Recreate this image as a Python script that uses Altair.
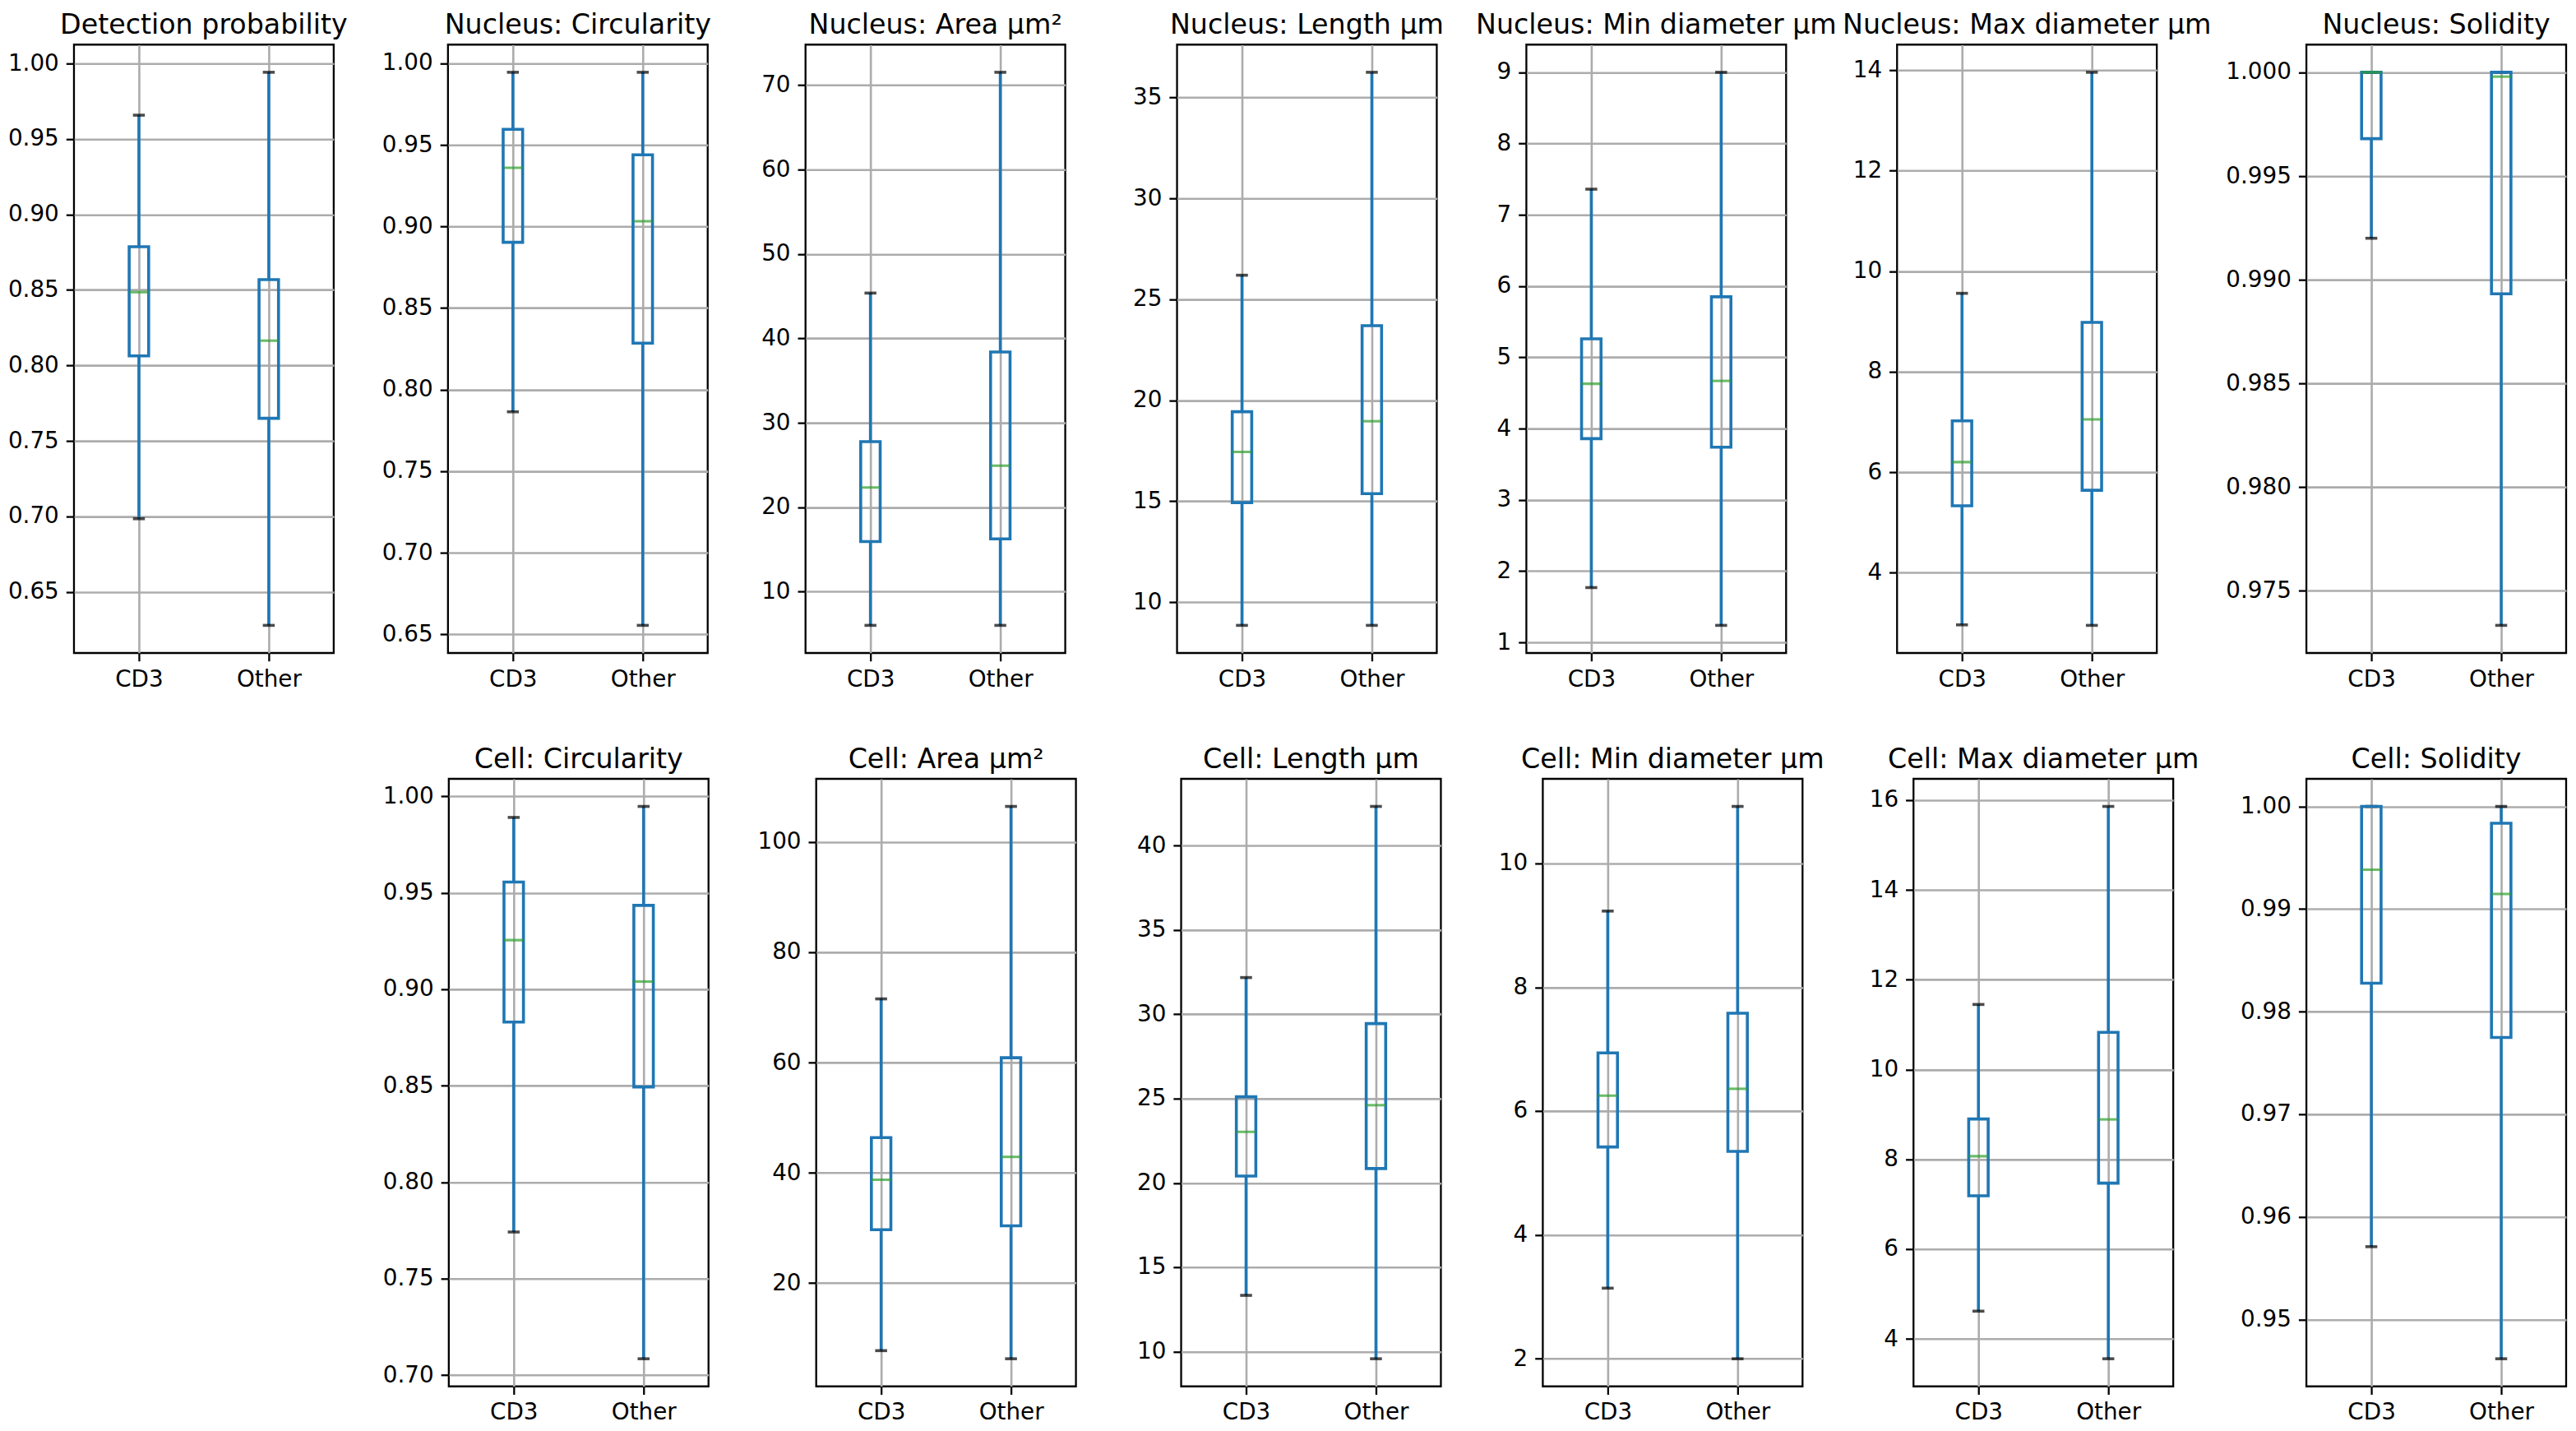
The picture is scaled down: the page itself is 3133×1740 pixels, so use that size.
import altair as alt
import pandas as pd

groups = ["CD3", "Other"]

titles = [
    "Detection probability", "Nucleus: Circularity", "Nucleus: Area µm²", "Nucleus: Length µm",
    "Nucleus: Min diameter µm", "Nucleus: Max diameter µm", "Nucleus: Solidity",
    "Cell: Circularity", "Cell: Area µm²", "Cell: Length µm", "Cell: Min diameter µm",
    "Cell: Max diameter µm", "Cell: Solidity",
]

# box statistics per panel (lower whisker, q1, median, q3, upper whisker)
cd3_lo = [0.6985, 0.7864, 6.0, 8.85, 1.77, 2.96, 0.99200, 0.7742, 7.76, 13.33, 3.14, 4.62, 0.95710]
cd3_q1 = [0.8063, 0.8903, 15.93, 14.93, 3.86, 5.33, 0.99680, 0.8830, 29.7, 20.41, 5.42, 7.19, 0.98277]
cd3_med = [0.8485, 0.9360, 22.33, 17.44, 4.63, 6.20, 1.0, 0.9255, 38.76, 23.03, 6.25, 8.07, 0.99383]
cd3_q3 = [0.8786, 0.9595, 27.77, 19.43, 5.26, 7.02, 1.0, 0.9556, 46.4, 25.11, 6.94, 8.90, 1.0]
cd3_hi = [0.9657, 0.9945, 45.37, 26.19, 7.36, 9.56, 1.0, 0.9891, 71.55, 32.18, 9.23, 11.45, 1.0]

oth_lo = [0.6279, 0.6555, 6.0, 8.85, 1.24, 2.95, 0.97334, 0.7085, 6.29, 9.57, 2.0, 3.56, 0.94618]
oth_q1 = [0.7650, 0.8285, 16.25, 15.37, 3.74, 5.64, 0.98932, 0.8494, 30.4, 20.85, 5.35, 7.47, 0.97749]
oth_med = [0.8164, 0.9032, 24.92, 18.96, 4.67, 7.05, 0.99979, 0.9040, 42.9, 24.61, 6.36, 8.89, 0.99147]
oth_q3 = [0.8568, 0.9439, 38.39, 23.69, 5.85, 8.98, 1.0, 0.9435, 60.88, 29.45, 7.58, 10.83, 0.99836]
oth_hi = [0.9941, 0.9945, 71.53, 36.24, 9.0, 13.96, 1.0, 0.9948, 106.45, 42.33, 10.92, 15.86, 1.0]

ticks = [
    [0.65, 0.70, 0.75, 0.80, 0.85, 0.90, 0.95, 1.00],
    [0.65, 0.70, 0.75, 0.80, 0.85, 0.90, 0.95, 1.00],
    [10, 20, 30, 40, 50, 60, 70],
    [10, 15, 20, 25, 30, 35],
    [1, 2, 3, 4, 5, 6, 7, 8, 9],
    [4, 6, 8, 10, 12, 14],
    [0.975, 0.980, 0.985, 0.990, 0.995, 1.000],
    [0.70, 0.75, 0.80, 0.85, 0.90, 0.95, 1.00],
    [20, 40, 60, 80, 100],
    [10, 15, 20, 25, 30, 35, 40],
    [2, 4, 6, 8, 10],
    [4, 6, 8, 10, 12, 14, 16],
    [0.95, 0.96, 0.97, 0.98, 0.99, 1.00],
]
formats = [".2f", ".2f", "d", "d", "d", "d", ".3f", ".2f", "d", "d", "d", "d", ".2f"]

C0 = "#1f77b4"
C2 = "#2ca02c"
LW = 3.6
BOXW = 23.7
CAPW = 14.5
PW = 316


def y_scale(i):
    vals = [cd3_lo[i], cd3_hi[i], oth_lo[i], oth_hi[i], cd3_q3[i], oth_q3[i]]
    vmin, vmax = min(vals), max(vals)
    m = 0.05 * (vmax - vmin)
    return alt.Scale(domain=[vmin - m, vmax + m], nice=False, zero=False)


def panel(i, h):
    df = pd.DataFrame({
        "group": groups,
        "lo": [cd3_lo[i], oth_lo[i]],
        "q1": [cd3_q1[i], oth_q1[i]],
        "med": [cd3_med[i], oth_med[i]],
        "q3": [cd3_q3[i], oth_q3[i]],
        "hi": [cd3_hi[i], oth_hi[i]],
    })
    ys = y_scale(i)
    xenc = alt.X("group:N", scale=alt.Scale(type="point", domain=groups, padding=0.5),
                 axis=alt.Axis(title=None, labelAngle=0, grid=True))
    yax = alt.Axis(title=None, values=ticks[i], format=formats[i], grid=True)

    def Y(f):
        return alt.Y(f + ":Q", scale=ys, axis=yax)

    base = alt.Chart(df)
    w_lo = base.mark_rule(color=C0, strokeWidth=LW).encode(x=xenc, y=Y("lo"), y2="q1:Q")
    w_hi = base.mark_rule(color=C0, strokeWidth=LW).encode(x=xenc, y=Y("q3"), y2="hi:Q")
    c_lo = base.mark_tick(color="black", thickness=LW, size=CAPW, orient="horizontal").encode(x=xenc, y=Y("lo"))
    c_hi = base.mark_tick(color="black", thickness=LW, size=CAPW, orient="horizontal").encode(x=xenc, y=Y("hi"))
    box = base.mark_bar(filled=False, stroke=C0, strokeWidth=LW, size=BOXW).encode(x=xenc, y=Y("q1"), y2="q3:Q")
    med = base.mark_tick(color=C2, thickness=LW * 0.85, size=BOXW, orient="horizontal").encode(x=xenc, y=Y("med"))
    return alt.layer(w_lo, w_hi, c_lo, c_hi, box, med).properties(width=PW, height=h, title=titles[i])


def spacer(w):
    return alt.Chart(pd.DataFrame({"v": [0]})).mark_point(opacity=0).encode(
        x=alt.X("v:Q", axis=None), y=alt.Y("v:Q", axis=None)
    ).properties(width=w, height=10, view=alt.ViewBackground(stroke="transparent"))


def lead_spacer(w, h):
    return alt.Chart(pd.DataFrame({"v": [cd3_med[0]]})).mark_point(opacity=0).encode(
        x=alt.X("v:Q", axis=None),
        y=alt.Y("v:Q", scale=y_scale(0),
                axis=alt.Axis(title=None, values=ticks[0], format=formats[0], grid=False,
                              labelColor="white", tickColor="white")),
    ).properties(width=w, height=h, view=alt.ViewBackground(stroke="transparent"))


TH = 740
BH = 739
top_gaps = [139, 119, 136, 109, 135, 182]
bot_gaps = [131, 128, 124, 135, 162]

top_items = [panel(0, TH)]
for k in range(6):
    top_items += [spacer(top_gaps[k]), panel(k + 1, TH)]

bot_items = [lead_spacer(456, BH), panel(7, BH)]
for k in range(5):
    bot_items += [spacer(bot_gaps[k]), panel(8 + k, BH)]

top_row = alt.hconcat(*top_items, spacing=0, bounds="flush")
bot_row = alt.hconcat(*bot_items, spacing=0, bounds="flush")

chart = alt.vconcat(top_row, bot_row, spacing=64).properties(
    padding={"left": 0, "top": 4, "right": 2, "bottom": 0}
).configure(font="DejaVu Sans").configure_axis(
    labelFont="DejaVu Sans", labelFontSize=27.8, labelColor="black",
    tickColor="black", tickWidth=2.3, tickSize=9.7, labelPadding=9,
    domain=False, gridColor="#acacac", gridWidth=2.6, gridOpacity=1, labelOverlap=False,
).configure_axisX(labelPadding=8.3).configure_view(
    stroke="black", strokeWidth=2.3
).configure_title(
    font="DejaVu Sans", fontSize=33.3, fontWeight="normal", color="black", offset=5.7, anchor="middle"
)

chart.save("out.html", embed_options={"renderer": "svg", "actions": False})
